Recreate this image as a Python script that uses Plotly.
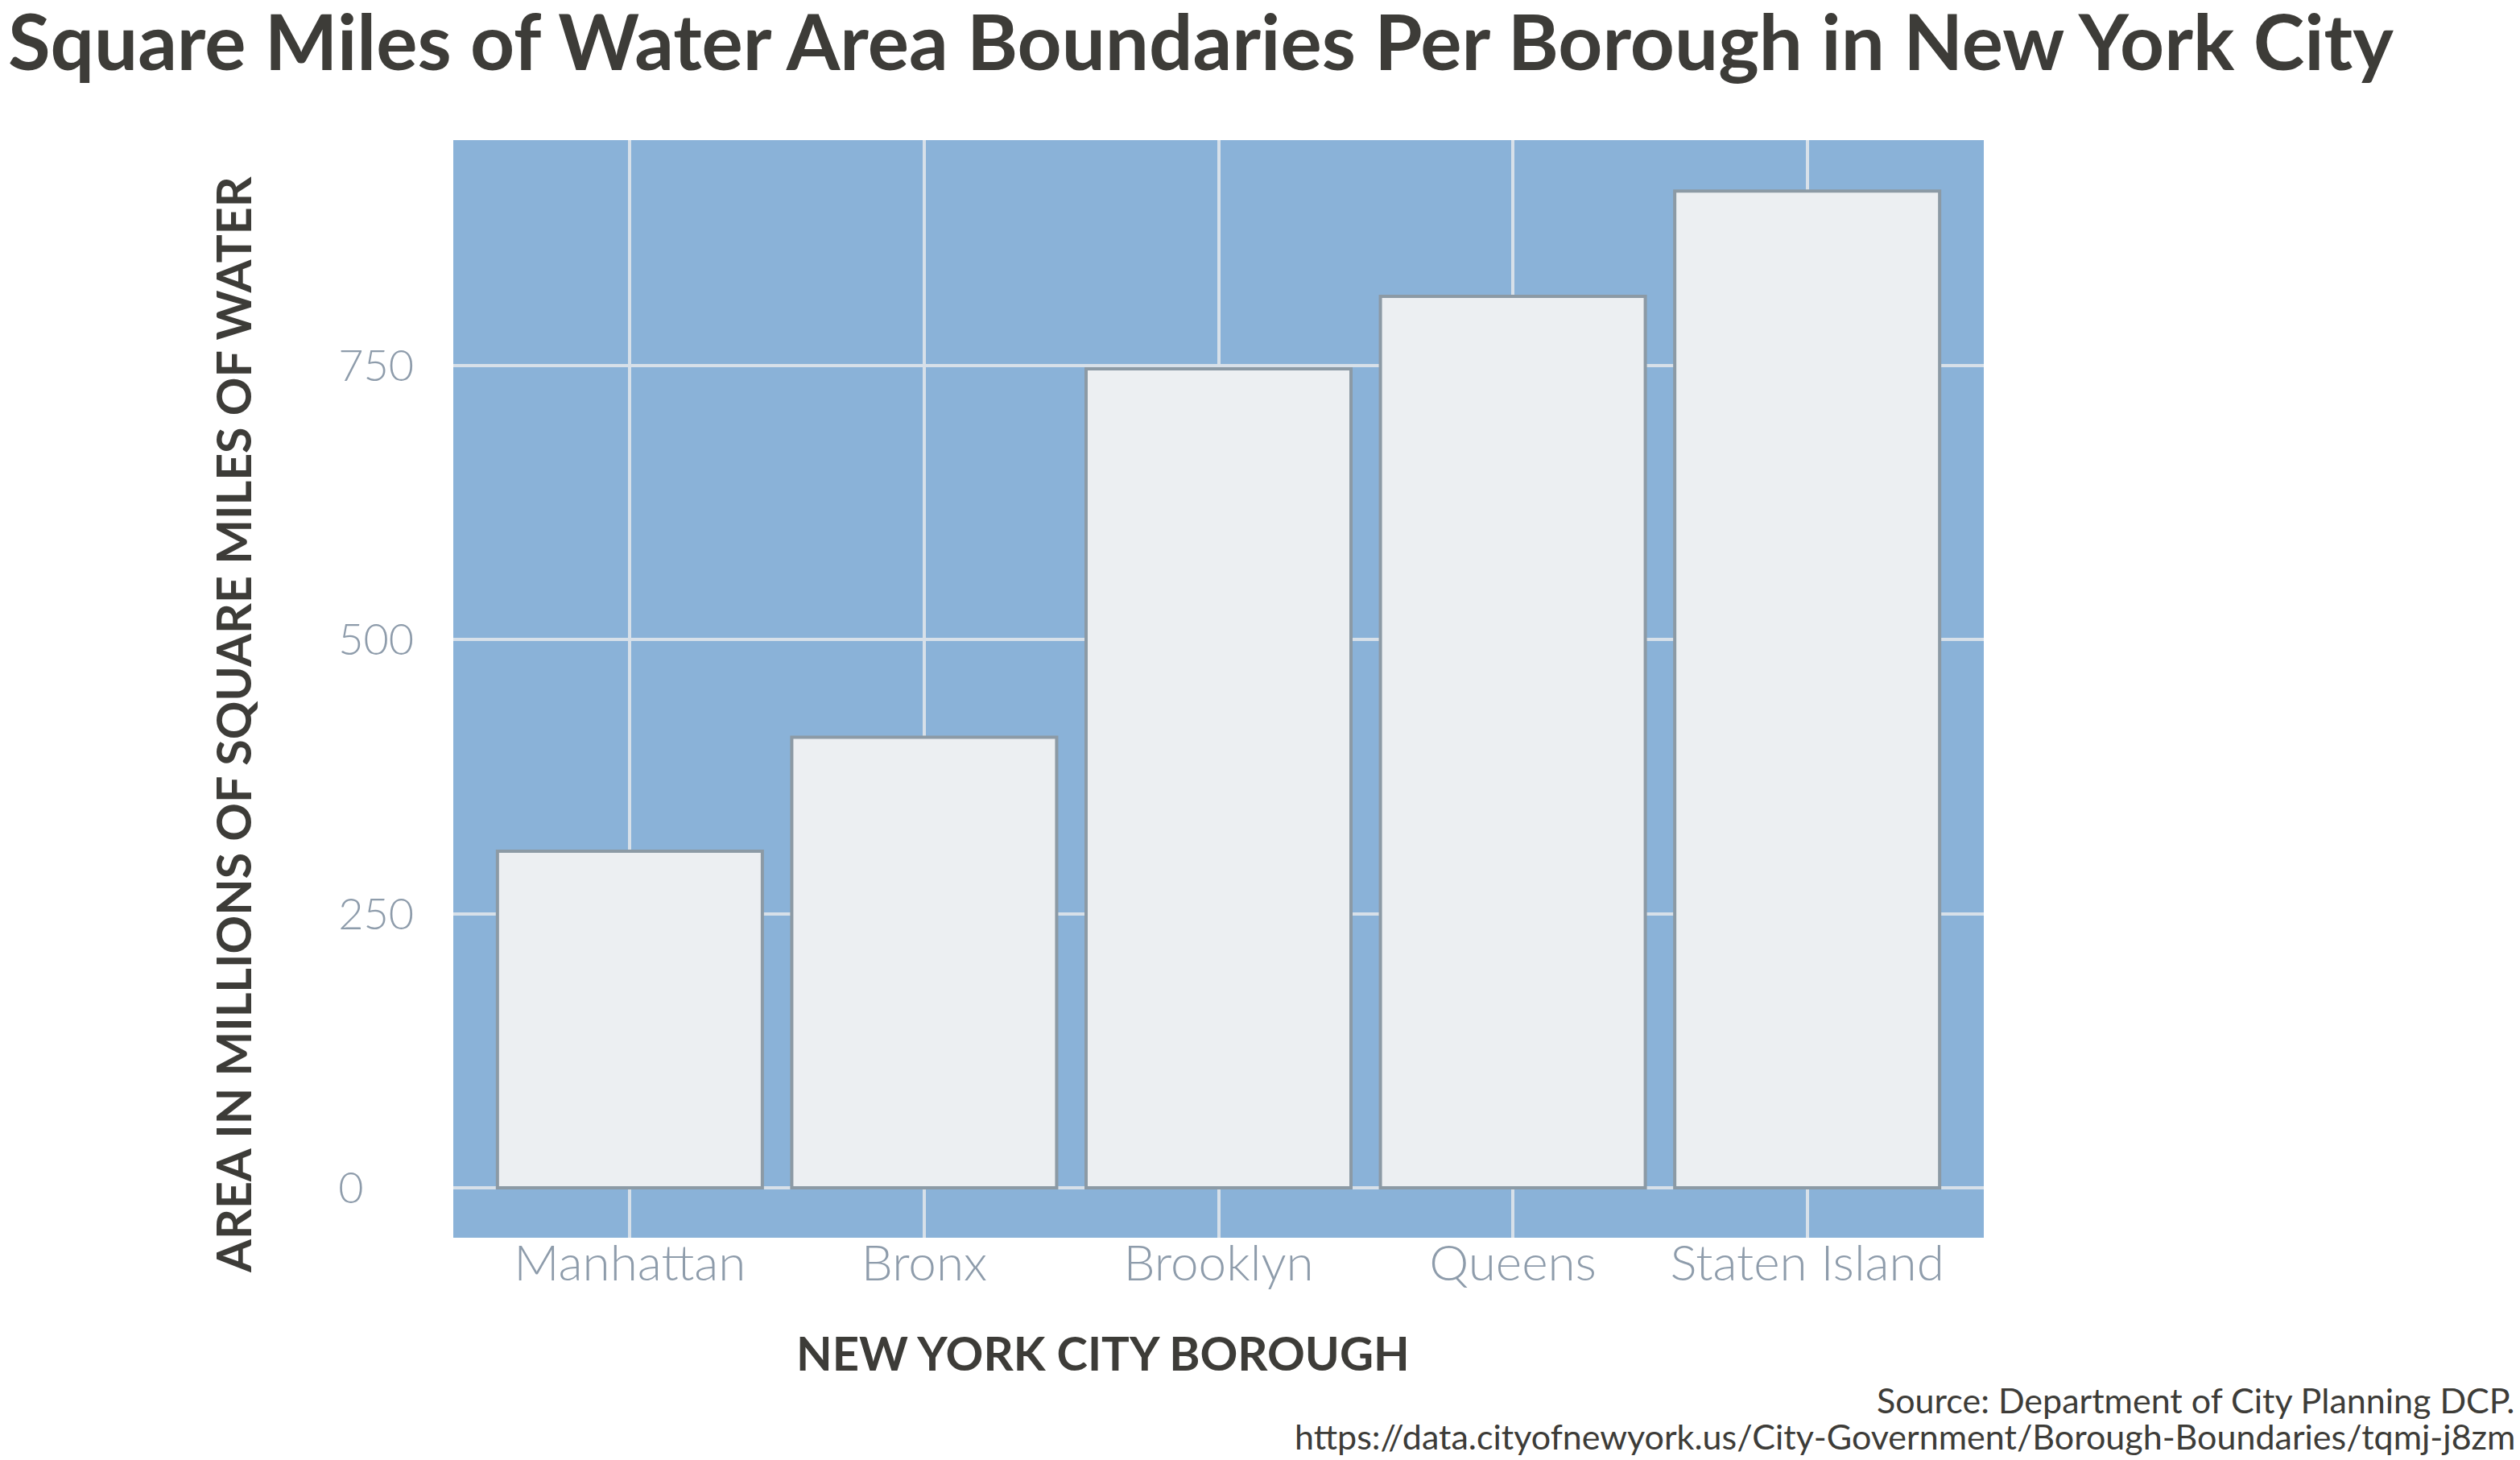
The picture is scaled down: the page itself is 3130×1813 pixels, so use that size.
import plotly.graph_objects as go

boroughs = ["Manhattan", "Bronx", "Brooklyn", "Queens", "Staten Island"]
water_area = [307, 411, 747, 813, 909]
y_tick_vals = [0, 250, 500, 750]
y_tick_text = ["0\u2007\u2007", "250", "500", "750"]

title_text = "Square Miles of Water Area Boundaries Per Borough in New York City"
x_title = "NEW YORK CITY BOROUGH"
y_title = "AREA IN MILLIONS OF SQUARE MILES OF WATER"
caption_lines = [
    "Source: Department of City Planning DCP.",
    "https://data.cityofnewyork.us/City-Government/Borough-Boundaries/tqmj-j8zm",
]

W, H = 3130, 1813
L, R, T, B = 563, 2464, 174, 1537

PANEL = "#8AB2D8"
GRID = "#D7E0E9"
BAR_FILL = "#ECEFF2"
BAR_LINE = "#8C9AA5"
TICK = "#8E9CAB"
DARK = "#3D3C38"

fig = go.Figure(
    go.Bar(
        x=boroughs,
        y=water_area,
        width=0.9,
        marker=dict(color=BAR_FILL, line=dict(color=BAR_LINE, width=4)),
    )
)

fig.update_layout(
    width=W,
    height=H,
    margin=dict(l=L, r=W - R, t=T, b=H - B, pad=0),
    paper_bgcolor="white",
    plot_bgcolor=PANEL,
    showlegend=False,
    title=dict(
        text=title_text,
        xref="container", x=0.0, xanchor="left",
        yref="container", y=1 - 20 / H, yanchor="top",
        pad=dict(l=10, t=0, b=0, r=0),
        font=dict(family="Lato", size=96, color=DARK, weight=700),
    ),
    font=dict(family="Lato", color=DARK),
)

fig.update_xaxes(
    range=[-0.6, 4.6],
    showgrid=True, gridcolor=GRID, gridwidth=4,
    tickfont=dict(family="Lato", size=62, color=TICK, weight=300),
    ticks="", ticklabelstandoff=-10,
    showline=False, zeroline=False,
)
fig.update_yaxes(
    range=[-45.5, 955.5],
    tickmode="array", tickvals=y_tick_vals, ticktext=y_tick_text,
    showgrid=True, gridcolor=GRID, gridwidth=4,
    tickfont=dict(family="Lato", size=54, color=TICK, weight=300),
    ticks="outside", ticklen=37, tickcolor="rgba(0,0,0,0)",
    showline=False, zeroline=False,
)

annotations = [
    dict(
        text=x_title, xref="paper", yref="paper",
        x=(1370 - L) / (R - L), y=-(1680 - B) / (B - T),
        xanchor="center", yanchor="middle", showarrow=False,
        font=dict(family="Lato", size=58, color=DARK, weight=700),
    ),
    dict(
        text=y_title, xref="paper", yref="paper",
        x=-(L - 290) / (R - L), y=(B - 900) / (B - T),
        xanchor="center", yanchor="middle", showarrow=False, textangle=-90,
        font=dict(family="Lato", size=59, color=DARK, weight=700),
    ),
]
for line, yb in zip(caption_lines, [1766, 1811]):
    annotations.append(dict(
        text=line, xref="paper", yref="paper",
        x=(3126 - L) / (R - L), y=-(yb - B) / (B - T),
        xanchor="right", yanchor="bottom", showarrow=False,
        font=dict(family="Lato", size=43, color=DARK, weight=400),
    ))
fig.update_layout(annotations=annotations)

fig.write_html("out.html")
